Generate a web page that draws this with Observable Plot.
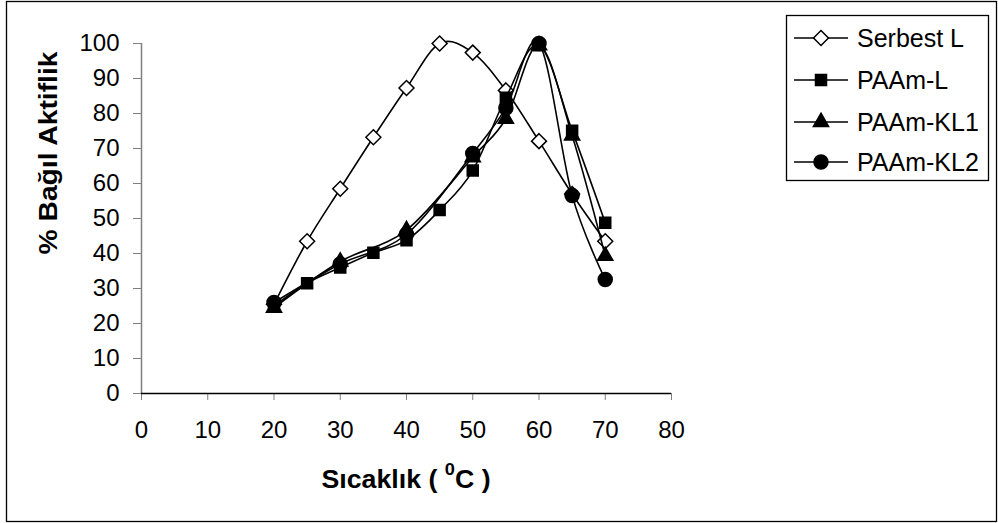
<!DOCTYPE html>
<html>
<head>
<meta charset="utf-8">
<script src="https://cdn.jsdelivr.net/npm/d3@7"></script>
<script src="https://cdn.jsdelivr.net/npm/@observablehq/plot@0.6"></script>
<style>
  html, body { margin: 0; padding: 0; background: #fff; }
  #chart { width: 998px; height: 523px; }
</style>
</head>
<body>
<div id="chart"></div>
<script>
// Relative activity (%) versus temperature (°C)
const seriesNames = ["Serbest L", "PAAm-L", "PAAm-KL1", "PAAm-KL2"];

const serbestTemps = [20, 25, 30, 35, 40, 45, 50, 55, 60, 65, 70];
const serbestL     = [25.5, 43.5, 58.5, 73.2, 87.3, 100, 97.4, 86.6, 72.1, 57, 43.5];

const paamLTemps = [20, 25, 30, 35, 40, 45, 50, 55, 60, 65, 70];
const paamL      = [25, 31.5, 36, 40.2, 43.8, 52.4, 63.7, 84.5, 99.5, 75.1, 48.8];

const klTemps = [20, 30, 40, 50, 55, 60, 65, 70];
const paamKL1 = [24.5, 37.7, 46.7, 67.5, 78.5, 99.5, 73.7, 39.3];
const paamKL2 = [26, 37, 45.5, 68.6, 81.6, 100, 56.6, 32.6];

const xTicks = [0, 10, 20, 30, 40, 50, 60, 70, 80];
const yTicks = [0, 10, 20, 30, 40, 50, 60, 70, 80, 90, 100];

const xTitle = "Sıcaklık ( ";
const xTitleSup = "0";
const xTitleEnd = "C )";
const yTitle = "% Bağıl Aktiflik";

// Long-format table built from the arrays above
const seriesData = [
  [serbestTemps, serbestL],
  [paamLTemps, paamL],
  [klTemps, paamKL1],
  [klTemps, paamKL2]
];
const rows = seriesNames.map((name, i) =>
  seriesData[i][0].map((t, j) => ({series: name, temp: t, value: seriesData[i][1][j]}))
);

// Marker styles per series (d3 symbol sizes are areas)
const markers = [
  {symbol: "diamond2", size: 143, fill: "white"},
  {symbol: "square",   size: 121, fill: "black"},
  {symbol: "triangle", size: 100, fill: "black"},
  {symbol: "circle",   size: 154, fill: "black"}
];
const rFromSize = s => Math.sqrt(s / Math.PI);

const FONT = "'Liberation Sans', Arial, Helvetica, sans-serif";

const seriesMarks = rows.flatMap((data, i) => [
  Plot.line(data, {x: "temp", y: "value", curve: "cardinal", stroke: "black", strokeWidth: 1.6}),
  Plot.dot(data, {
    x: "temp", y: "value",
    symbol: () => markers[i].symbol,
    r: rFromSize(markers[i].size),
    fill: markers[i].fill,
    stroke: "black",
    strokeWidth: 1.5
  })
]);

const chart = Plot.plot({
  width: 998,
  height: 523,
  marginLeft: 141,
  marginRight: 327,
  marginTop: 43,
  marginBottom: 130,
  style: {fontFamily: FONT, fontSize: "24px", color: "black", background: "white", overflow: "visible"},
  x: {domain: [0, 80], label: null},
  y: {domain: [0, 100], label: null},
  symbol: {type: "identity"},
  marks: [
    Plot.axisY({ticks: yTicks, tickSize: 8, tickPadding: 14, stroke: "#808080", fill: "black", fontSize: 24, label: null}),
    Plot.axisX({ticks: xTicks, tickSize: 7, tickPadding: 20, stroke: "#808080", fill: "black", fontSize: 24, label: null}),
    Plot.ruleX([0], {stroke: "#808080", strokeWidth: 1.5}),
    Plot.ruleY([0], {stroke: "black", strokeWidth: 1.3}),
    ...seriesMarks
  ]
});

const svg = d3.select(chart);

// Outer chart border
svg.append("rect")
  .attr("x", 6.5).attr("y", 1.5)
  .attr("width", 990).attr("height", 520)
  .attr("fill", "none").attr("stroke", "black").attr("stroke-width", 1.3);

// Axis titles (slightly widened glyphs, as in the printed chart)
svg.append("text")
  .attr("transform", "translate(57,153) rotate(-90) scale(1.13,1)")
  .attr("text-anchor", "middle")
  .attr("font-family", FONT).attr("font-weight", "bold").attr("font-size", 25)
  .attr("fill", "black")
  .text(yTitle);

const xt = svg.append("text")
  .attr("transform", "translate(406,488) scale(1.07,1)")
  .attr("text-anchor", "middle")
  .attr("font-family", FONT).attr("font-weight", "bold").attr("font-size", 25)
  .attr("fill", "black")
  .attr("xml:space", "preserve");
xt.append("tspan").text(xTitle);
xt.append("tspan").attr("font-size", 17).attr("dy", -13).text(xTitleSup);
xt.append("tspan").attr("dy", 13).text(xTitleEnd);

// Legend
const lg = svg.append("g");
lg.append("rect")
  .attr("x", 786.5).attr("y", 15.5).attr("width", 202).attr("height", 165)
  .attr("fill", "white").attr("stroke", "black").attr("stroke-width", 1.3);
const rowY = [38, 80, 122, 162];
seriesNames.forEach((name, i) => {
  const y = rowY[i];
  lg.append("line")
    .attr("x1", 794).attr("x2", 848).attr("y1", y).attr("y2", y)
    .attr("stroke", "black").attr("stroke-width", 1.6);
  const sym = {diamond2: d3.symbolDiamond2, square: d3.symbolSquare, triangle: d3.symbolTriangle, circle: d3.symbolCircle}[markers[i].symbol];
  lg.append("path")
    .attr("transform", `translate(821,${y})`)
    .attr("d", d3.symbol(sym, markers[i].size)())
    .attr("fill", markers[i].fill).attr("stroke", "black").attr("stroke-width", 1.5);
  lg.append("text")
    .attr("x", 857).attr("y", y).attr("dy", "0.36em")
    .attr("text-anchor", "start")
    .attr("font-family", FONT).attr("font-size", 25).attr("fill", "black")
    .text(name);
});

document.getElementById("chart").appendChild(chart);
</script>
</body>
</html>
